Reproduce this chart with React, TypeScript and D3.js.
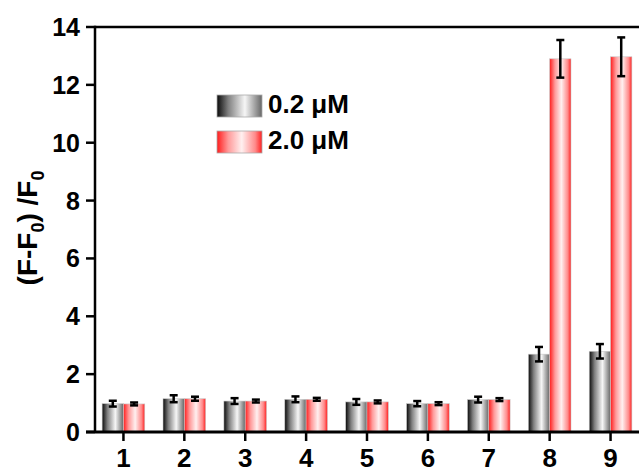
import React from "react";
import * as d3 from "d3";

const categories = ["1", "2", "3", "4", "5", "6", "7", "8", "9"];
const seriesNames = ["0.2 μM", "2.0 μM"];
const lowValues = [0.98, 1.15, 1.07, 1.13, 1.04, 0.98, 1.12, 2.69, 2.79];
const lowErrors = [0.1, 0.12, 0.1, 0.1, 0.1, 0.09, 0.1, 0.25, 0.25];
const highValues = [0.97, 1.15, 1.07, 1.13, 1.04, 0.98, 1.12, 12.9, 12.97];
const highErrors = [0.05, 0.07, 0.05, 0.05, 0.05, 0.05, 0.05, 0.65, 0.67];
const yTicks = [0, 2, 4, 6, 8, 10, 12, 14];

const W = 639;
const H = 473;
const left = 95;
const top = 27;
const bottom = 432;
const font = "'Liberation Sans', Arial, Helvetica, sans-serif";

export default function App() {
  const x = d3
    .scaleBand<string>()
    .domain(categories)
    .range([93, 641])
    .paddingInner(0.3)
    .paddingOuter(0.15);
  const inner = d3
    .scaleBand<string>()
    .domain(seriesNames)
    .range([0, x.bandwidth()]);
  const y = d3.scaleLinear().domain([0, 14]).range([bottom, top]);

  const series = [
    { name: seriesNames[0], values: lowValues, errors: lowErrors, fill: "url(#gradGray)" },
    { name: seriesNames[1], values: highValues, errors: highErrors, fill: "url(#gradRed)" },
  ];

  return (
    <svg
      width={W}
      height={H}
      style={{ position: "absolute", left: 0, top: 0, background: "#fff" }}
      fontFamily={font}
    >
      <defs>
        <linearGradient id="gradGray" x1="0" x2="1" y1="0" y2="0">
          <stop offset="0%" stopColor="#0a0a0a" />
          <stop offset="25%" stopColor="#808080" />
          <stop offset="62%" stopColor="#f6f6f6" />
          <stop offset="100%" stopColor="#666666" />
        </linearGradient>
        <linearGradient id="gradRed" x1="0" x2="1" y1="0" y2="0">
          <stop offset="0%" stopColor="#ff1c1c" />
          <stop offset="25%" stopColor="#ff9a9a" />
          <stop offset="55%" stopColor="#fff0f0" />
          <stop offset="85%" stopColor="#ff8a8a" />
          <stop offset="100%" stopColor="#ff2020" />
        </linearGradient>
      </defs>

      {/* bars */}
      {series.map((s) =>
        categories.map((c, i) => {
          const bx = (x(c) as number) + (inner(s.name) as number);
          const bw = inner.bandwidth();
          return (
            <rect
              key={s.name + c}
              x={bx}
              y={y(s.values[i])}
              width={bw}
              height={bottom - y(s.values[i])}
              fill={s.fill}
              stroke="#c8c8c8"
              strokeWidth={0.6}
            />
          );
        })
      )}

      {/* error bars */}
      {series.map((s) =>
        categories.map((c, i) => {
          const cx = (x(c) as number) + (inner(s.name) as number) + inner.bandwidth() / 2;
          const y1 = y(s.values[i] + s.errors[i]);
          const y2 = y(s.values[i] - s.errors[i]);
          const cap = 4;
          return (
            <g key={"e" + s.name + c} stroke="#000" strokeWidth={2.5}>
              <line x1={cx} x2={cx} y1={y1} y2={y2} />
              <line x1={cx - cap} x2={cx + cap} y1={y1} y2={y1} />
              <line x1={cx - cap} x2={cx + cap} y1={y2} y2={y2} />
            </g>
          );
        })
      )}

      {/* axes */}
      <line x1={left} x2={W} y1={top} y2={top} stroke="#000" strokeWidth={2.5} />
      <line x1={left} x2={left} y1={top - 1.25} y2={bottom} stroke="#000" strokeWidth={2.5} />
      <line x1={86} x2={W} y1={bottom} y2={bottom} stroke="#000" strokeWidth={3} />

      {yTicks.map((t) => (
        <g key={"yt" + t}>
          <line x1={86} x2={left} y1={y(t)} y2={y(t)} stroke="#000" strokeWidth={2.5} />
          <text
            x={80}
            y={y(t)}
            dy="0.36em"
            textAnchor="end"
            fontSize={25}
            fontWeight="bold"
            fill="#000"
          >
            {t}
          </text>
        </g>
      ))}

      {categories.map((c) => {
        const cx = (x(c) as number) + x.bandwidth() / 2;
        return (
          <g key={"xt" + c}>
            <line x1={cx} x2={cx} y1={bottom} y2={441} stroke="#000" strokeWidth={2.5} />
            <text
              x={cx}
              y={467}
              textAnchor="middle"
              fontSize={26}
              fontWeight="bold"
              fill="#000"
            >
              {c}
            </text>
          </g>
        );
      })}

      {/* y title */}
      <text
        transform="translate(37,228) rotate(-90)"
        textAnchor="middle"
        fontSize={28}
        fontWeight="bold"
        fill="#000"
      >
        <tspan>(F-F</tspan>
        <tspan fontSize={18} dy={7}>0</tspan>
        <tspan dy={-7}>) /F</tspan>
        <tspan fontSize={18} dy={7}>0</tspan>
      </text>

      {/* legend */}
      {series.map((s, i) => (
        <g key={"lg" + s.name} transform={`translate(217,${95 + i * 36})`}>
          <rect width={45} height={22} fill={s.fill} stroke="#aaa" strokeWidth={0.8} />
          <text x={51} y={18} fontSize={26} fontWeight="bold" fill="#000">
            {s.name}
          </text>
        </g>
      ))}
    </svg>
  );
}
